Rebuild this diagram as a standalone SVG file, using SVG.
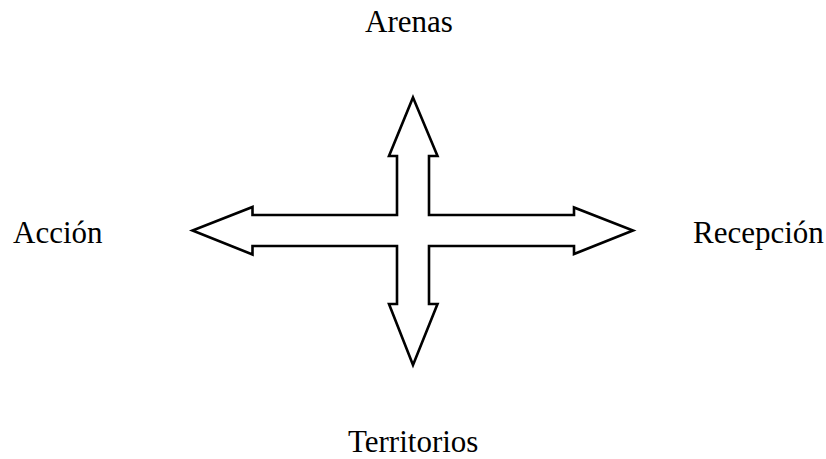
<svg xmlns="http://www.w3.org/2000/svg" width="826" height="459" viewBox="0 0 826 459">
<style>
.lbl{font-family:"Liberation Serif","Times New Roman",serif;font-size:31px;fill:#000}
.cross{fill:#fff;stroke:#000;stroke-width:2.6;stroke-linejoin:miter}
</style>
<rect width="826" height="459" fill="#fff"/>
<g id="connectors">
<polygon class="cross" points="413,97.5 437.5,156 429,156 429,215 574,215 574,207.5 633,230.5 574,254 574,246 429,246 429,304 437.5,304 413,365 389,304 397,304 397,246 252.5,246 252.5,254.5 192.5,230.5 252.5,207 252.5,215 397,215 397,156 389,156"/>
</g>
<g id="arenas"><text class="lbl" x="365" y="31.5">Arenas</text></g>
<g id="accion"><text class="lbl" x="13" y="243.3">Acción</text></g>
<g id="recepcion"><text class="lbl" x="693" y="243.3">Recepción</text></g>
<g id="territorios"><text class="lbl" x="348" y="451.5">Territorios</text></g>
</svg>
